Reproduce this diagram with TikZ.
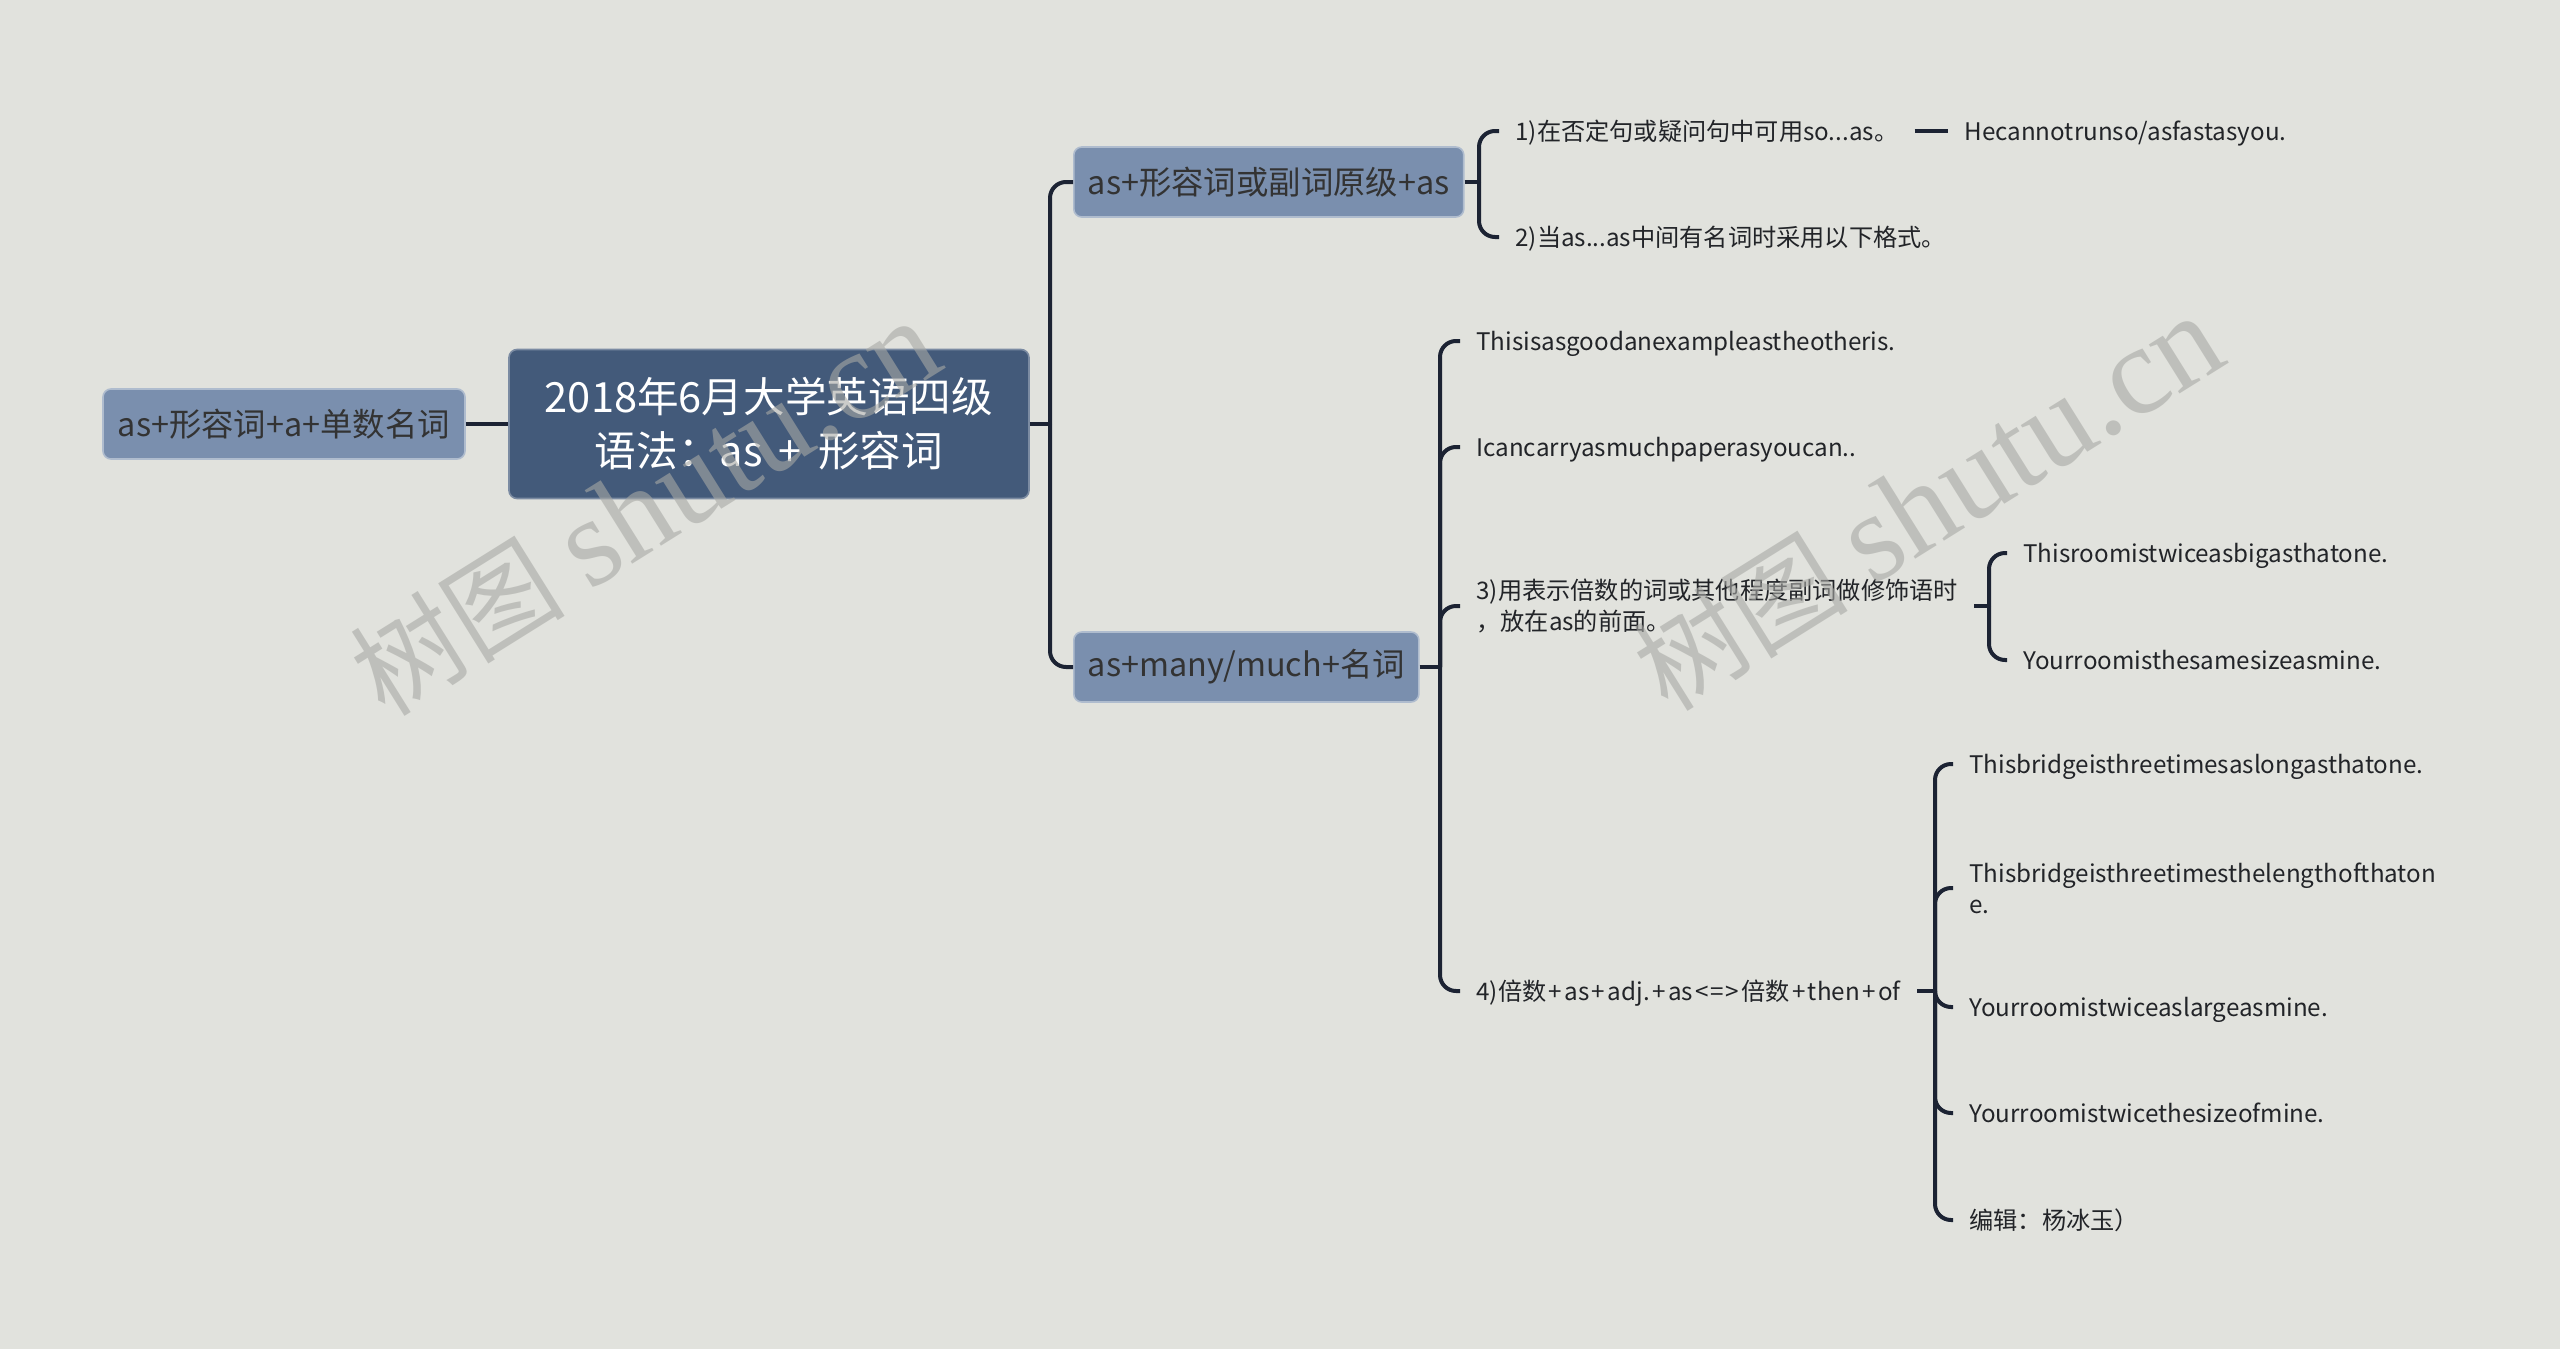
\documentclass[tikz,border=0pt]{standalone}
\usepackage{fontspec}
\setmainfont{Noto Sans CJK SC}
\newfontfamily\wmserif{Liberation Serif}
\usetikzlibrary{positioning}

\definecolor{bgcol}{HTML}{E1E2DD}
\definecolor{rootcol}{HTML}{435A7A}
\definecolor{topiccol}{HTML}{7A8FAE}
\definecolor{linecol}{HTML}{1C2333}
\definecolor{leafcol}{HTML}{222428}
\definecolor{wmcol}{HTML}{A8A9A5}

\newcommand\pls{\kern1.2pt+\kern1.2pt}

\tikzset{
  root/.style={rectangle, rounded corners=4pt, fill=rootcol, draw=rootcol!70!white,
    line width=0.8pt, text=white, align=center, minimum width=260pt,
    minimum height=74.5pt, font=\fontsize{20.8}{27}\selectfont},
  topic/.style={rectangle, rounded corners=4pt, fill=topiccol, draw=topiccol!60!white,
    line width=0.8pt, text=black!80, minimum height=35pt, inner xsep=7pt,
    font=\fontsize{16.2}{19}\selectfont},
  leaf/.style={anchor=west, inner xsep=8pt, inner ysep=2pt, text=leafcol,
    align=left, text height=11.5pt, text depth=2.5pt,
    font=\fontsize{12.1}{15.5}\selectfont},
  twolines/.style={text height=, text depth=},
  branch/.style={draw=linecol, line width=2pt},
  brace/.style={branch, rounded corners=8pt},
  wm/.style={text=wmcol, opacity=0.6, rotate=32, font=\fontsize{54}{60}\selectfont}
}

\begin{document}
\begin{tikzpicture}[x=0.5pt,y=-0.5pt]

  \fill[bgcol] (0,0) rectangle (2560,1349);
  \useasboundingbox (0,0) rectangle (2560,1349);

  % main topics
  \node[root] (root) at (769,424) {2018年6月大学英语四级\\语法：as\,~+~\,形容词};
  \node[topic, minimum width=181pt] (left) at (284,424) {as+形容词+a+单数名词};
  \node[topic, anchor=west] (as)   at (1073,182) {as+形容词或副词原级+as};
  \node[topic, anchor=west] (many) at (1073,667) {as+many/much+名词};

  % leaves
  \begin{scope}[every node/.style={leaf}]
    \node (a1) at (1499,131) {1)在否定句或疑问句中可用so...as。};
    \node (a2) at (1499,237) {2)当as...as中间有名词时采用以下格式。};
    \node (a3) at (1948,131) {Hecannotrunso/asfastasyou.};

    \node (c1) at (1460,341) {Thisisasgoodanexampleastheotheris.};
    \node (c2) at (1460,447) {Icancarryasmuchpaperasyoucan..};
    \node[twolines] (c3) at (1460,606) {3)用表示倍数的词或其他程度副词做修饰语时\\，放在as的前面。};
    \node (c4) at (1460,991) {4)倍数\pls as\pls adj.\pls as\kern1pt<\kern1pt=\kern1pt>\kern1pt倍数\pls then\pls of};

    \node (d1) at (2007,553) {Thisroomistwiceasbigasthatone.};
    \node (d2) at (2007,660) {Yourroomisthesamesizeasmine.};

    \node (e1) at (1953,764)  {Thisbridgeisthreetimesaslongasthatone.};
    \node[twolines] (e2) at (1953,888)  {Thisbridgeisthreetimesthelengthofthaton\\e.};
    \node (e3) at (1953,1007) {Yourroomistwiceaslargeasmine.};
    \node (e4) at (1953,1113) {Yourroomistwicethesizeofmine.};
    \node (e5) at (1953,1220) {编辑：杨冰玉）};
  \end{scope}

  % connectors
  \coordinate (sp) at (1050,424);
  \coordinate (asb) at (1479,182);
  \coordinate (manyb) at (1440,667);
  \coordinate (c3b) at (1989,606);
  \coordinate (c4b) at (1935,991);

  \draw[branch] (left.east) -- (root.west);
  \draw[branch] (root.east) -- (sp);
  \draw[brace] (sp) |- (as.west);
  \draw[brace] (sp) |- (many.west);

  \draw[branch] (as.east) -- (asb);
  \foreach \n in {a1,a2}
    \draw[brace] (asb) |- (\n.west);
  \draw[branch] (a1.east) -- (a3.west);

  \draw[branch] (many.east) -- (manyb);
  \foreach \n in {c1,c2,c3,c4}
    \draw[brace] (manyb) |- (\n.west);

  \draw[branch] (c3.east) -- (c3b);
  \foreach \n in {d1,d2}
    \draw[brace] (c3b) |- (\n.west);

  \draw[branch] (c4.east) -- (c4b);
  \foreach \n in {e1,e2,e3,e4,e5}
    \draw[brace] (c4b) |- (\n.west);

  % watermarks
  \node[wm] (wm1) at (645,508)  {树图 {\wmserif\fontsize{63}{63}\selectfont shutu.cn}};
  \node[wm] (wm2) at (1928,503) {树图 {\wmserif\fontsize{63}{63}\selectfont shutu.cn}};

\end{tikzpicture}
\end{document}
